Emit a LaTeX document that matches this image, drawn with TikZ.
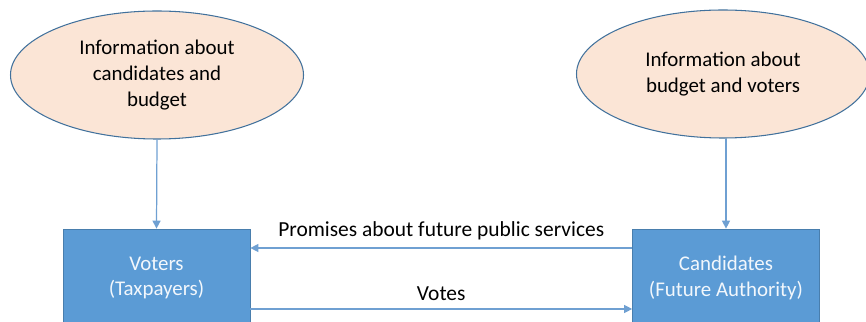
\documentclass[tikz,border=0pt]{standalone}
\usepackage{fontspec}
\setmainfont{Carlito}
\usetikzlibrary{positioning,arrows.meta,shapes.geometric}
\definecolor{peach}{HTML}{FBE5D6}
\definecolor{edgeblue}{HTML}{41719C}
\definecolor{boxblue}{HTML}{5B9BD5}
\definecolor{linkblue}{HTML}{6FA0D2}
\tikzset{
  infobubble/.style={ellipse, draw=edgeblue, line width=0.6pt, fill=peach, align=center,
    minimum width=5.86cm, minimum height=2.56cm, inner sep=0pt, font=\fontsize{11.9}{14.6}\selectfont},
  actorbox/.style={draw=edgeblue!70!boxblue, fill=boxblue, align=center, text=white!92!boxblue,
    minimum width=3.74cm, minimum height=1.96cm, font=\fontsize{11.9}{14.6}\selectfont},
  flowarrow/.style={-{Triangle[length=1.6mm, width=1.6mm]}, linkblue, line width=0.7pt},
  flowlabel/.style={font=\fontsize{12.2}{14.6}\selectfont, text=black},
}

\begin{document}
\begin{tikzpicture}
  \useasboundingbox (0,0) rectangle (17.32,6.44);
  \node[infobubble] (infovoters) at (3.14,4.94) {Information about\\candidates and\\budget};
  \node[infobubble] (infocands) at (14.46,4.96) {Information about\\budget and voters};
  \node[actorbox] (voters) at (3.13,0.88) {Voters\\(Taxpayers)};
  \node[actorbox] (cands) at (14.52,0.88) {Candidates\\(Future Authority)};
  \draw[flowarrow] (infovoters.south) -- (voters.north);
  \draw[flowarrow] (infocands.south -| cands.north) -- (cands.north);
  \draw[flowarrow] ([yshift=6mm]cands.west) -- node[flowlabel, above=1pt]{Promises about future public services} ([yshift=6mm]voters.east);
  \draw[flowarrow] ([yshift=-6.2mm]voters.east) -- node[flowlabel, above=1pt]{Votes} ([yshift=-6.2mm]cands.west);
\end{tikzpicture}
\end{document}
